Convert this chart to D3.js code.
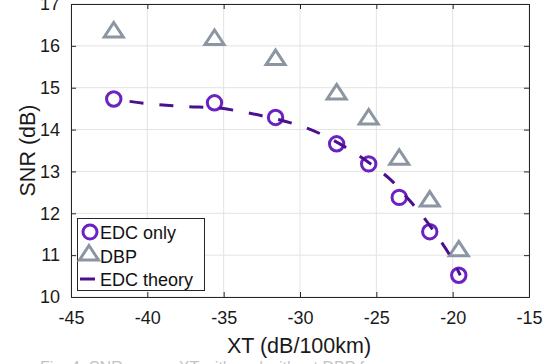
<!DOCTYPE html>
<html>
<head>
<meta charset="utf-8">
<script src="https://cdn.jsdelivr.net/npm/d3@7"></script>
<style>
  html, body { margin: 0; padding: 0; background: #fff; }
  svg { display: block; font-family: "Liberation Sans", Arial, Helvetica, sans-serif; }
</style>
</head>
<body>
<svg id="chart" width="555" height="364"></svg>
<script>
// ---- data ----
const edcX = [-42.2, -35.6, -31.6, -27.6, -25.5, -23.5, -21.5, -19.6];
const edcY = [14.73, 14.64, 14.29, 13.66, 13.18, 12.38, 11.56, 10.52];
const dbpX = [-42.2, -35.6, -31.6, -27.6, -25.5, -23.5, -21.5, -19.6];
const dbpY = [16.38, 16.20, 15.72, 14.90, 14.30, 13.34, 12.34, 11.15];
const theoryX = [-42.2, -40, -37.5, -35.5, -34, -32.5, -31, -29.5, -28, -26.5, -25, -24, -23, -22, -21, -20, -19.5];
const theoryY = [14.73, 14.62, 14.55, 14.52, 14.44, 14.33, 14.20, 14.03, 13.78, 13.46, 13.08, 12.78, 12.38, 11.95, 11.45, 10.88, 10.52];
const xTicks = [-45, -40, -35, -30, -25, -20, -15];
const yTicks = [10, 11, 12, 13, 14, 15, 16, 17];
const legendLabels = ["EDC only", "DBP", "EDC theory"];

const colEDC = "#6a22c2", colDBP = "#8b96a2", colTheory = "#4b0f90", colAxis = "#262626";

const svg = d3.select("#chart");
const L = 71, R = 529, T = 4, B = 297;
const x = d3.scaleLinear().domain([-45, -15]).range([L, R]);
const y = d3.scaleLinear().domain([10, 17]).range([B, T]);

// grid
const grid = svg.append("g");
grid.selectAll("line.gx").data(xTicks).join("line")
  .attr("x1", d => x(d)).attr("x2", d => x(d)).attr("y1", T).attr("y2", B)
  .attr("stroke", "#e3e3e3").attr("stroke-width", 1);
grid.selectAll("line.gy").data(yTicks).join("line")
  .attr("y1", d => y(d)).attr("y2", d => y(d)).attr("x1", L).attr("x2", R)
  .attr("stroke", "#e3e3e3").attr("stroke-width", 1);

// axes
const fmt = d => String(d).replace("\u2212", "-");
const xAxis = d3.axisBottom(x).tickValues(xTicks).tickSize(-5).tickPadding(14).tickFormat(fmt);
const yAxis = d3.axisLeft(y).tickValues(yTicks).tickSize(-5).tickPadding(11).tickFormat(fmt);
const xTop = d3.axisTop(x).tickValues(xTicks).tickSize(-5).tickFormat("");
const yRight = d3.axisRight(y).tickValues(yTicks).tickSize(-5).tickFormat("");

function style(g) {
  g.selectAll("path.domain").attr("stroke", colAxis).attr("stroke-width", 1);
  g.selectAll(".tick line").attr("stroke", colAxis).attr("stroke-width", 1);
  g.selectAll(".tick text").attr("fill", "#1a1a1a").attr("font-size", 18)
    .attr("font-family", "Liberation Sans, Arial, sans-serif");
}
svg.append("g").attr("transform", `translate(0,${B})`).call(xAxis).call(style)
  .selectAll(".tick text").attr("dy", "0.71em");
svg.append("g").attr("transform", `translate(${L},0)`).call(yAxis).call(style);
svg.append("g").attr("transform", `translate(0,${T})`).call(xTop).call(style);
svg.append("g").attr("transform", `translate(${R},0)`).call(yRight).call(style);

// axis titles
svg.append("text").attr("x", 299).attr("y", 353).attr("text-anchor", "middle")
  .attr("font-size", 21.5).attr("fill", "#1a1a1a").text("XT (dB/100km)");
svg.append("text").attr("transform", `translate(35,${(T + B) / 2}) rotate(-90)`)
  .attr("text-anchor", "middle").attr("font-size", 21.5).attr("fill", "#1a1a1a").text("SNR (dB)");

// caption (clipped at bottom)
svg.append("text").attr("x", 40).attr("y", 373).attr("font-size", 16)
  .attr("fill", "#c4c4c4").text("Fig. 4: SNR versus XT with and without DBP for");

// markers
const triPath = "M0,-7.5L9.5,7L-9.5,7Z";
const edc = edcX.map((v, i) => [v, edcY[i]]);
const dbp = dbpX.map((v, i) => [v, dbpY[i]]);
const theory = theoryX.map((v, i) => [v, theoryY[i]]);

svg.append("g").selectAll("circle").data(edc).join("circle")
  .attr("cx", d => x(d[0])).attr("cy", d => y(d[1])).attr("r", 7.2)
  .attr("fill", "none").attr("stroke", colEDC).attr("stroke-width", 3);
svg.append("g").selectAll("path").data(dbp).join("path")
  .attr("d", triPath).attr("transform", d => `translate(${x(d[0])},${y(d[1])})`)
  .attr("fill", "none").attr("stroke", colDBP).attr("stroke-width", 3);

const line = d3.line().x(d => x(d[0])).y(d => y(d[1])).curve(d3.curveMonotoneX);
svg.append("path").datum(theory).attr("d", line)
  .attr("fill", "none").attr("stroke", colTheory).attr("stroke-width", 3)
  .attr("stroke-dasharray", "14,16").attr("stroke-dashoffset", 14);

// legend
const lg = svg.append("g");
lg.append("rect").attr("x", 77.5).attr("y", 218.5).attr("width", 127).attr("height", 72)
  .attr("fill", "#fff").attr("stroke", colAxis).attr("stroke-width", 1);
lg.append("circle").attr("cx", 90).attr("cy", 232).attr("r", 7)
  .attr("fill", "none").attr("stroke", colEDC).attr("stroke-width", 3);
lg.append("path").attr("d", triPath).attr("transform", "translate(89,253)")
  .attr("fill", "none").attr("stroke", colDBP).attr("stroke-width", 3);
lg.append("line").attr("x1", 80).attr("x2", 95).attr("y1", 279).attr("y2", 279)
  .attr("stroke", colTheory).attr("stroke-width", 3);
const ly = [239, 263, 286];
lg.selectAll("text").data(legendLabels).join("text")
  .attr("x", 100).attr("y", (d, i) => ly[i]).attr("font-size", 18)
  .attr("fill", "#111").text(d => d);
</script>
</body>
</html>
